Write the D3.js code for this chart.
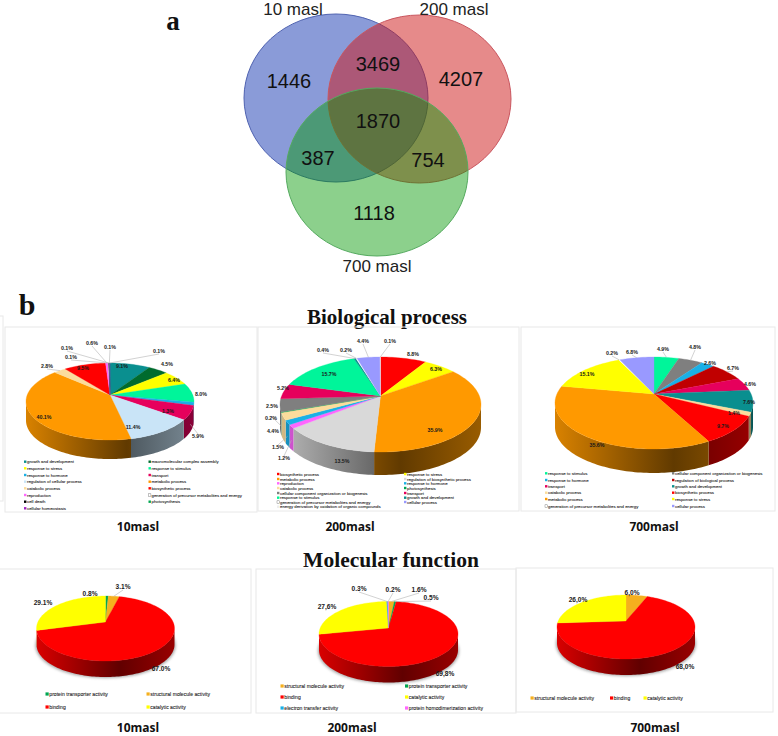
<!DOCTYPE html>
<html>
<head>
<meta charset="utf-8">
<script src="https://cdn.jsdelivr.net/npm/d3@7"></script>
<style>
body{margin:0;background:#fff;}
svg{display:block;}
</style>
</head>
<body>
<div id="chart"></div>
<script>
// venn
var vennSets=['10 masl','200 masl','700 masl'];
var vennCounts=[1446,3469,4207,1870,387,754,1118];

// biological process, slices clockwise from the top
var bio10Cats=['growth and development','macromolecular complex assembly','response to stress','response to stimulus','response to hormone','transport','regulation of cellular process','metabolic process','catabolic process','biosynthetic process','reproduction','generation of precursor metabolites and energy','cell death','photosynthesis','cellular homeostasis'];
var bio10Vals=[9.1,4.5,6.4,8.0,1.3,5.9,11.4,40.1,2.8,9.5,0.6,0.1,0.1,0.1,0.1];

var bio200Cats=['biosynthetic process','response to stress','metabolic process','regulation of biosynthetic process','reproduction','response to hormone','catabolic process','photosynthesis','cellular component organization or biogenesis','transport','response to stimulus','growth and development','generation of precursor metabolites and energy','cellular process','energy derivation by oxidation of organic compounds'];
var bio200Vals=[8.8,6.3,35.9,13.5,1.2,1.5,2.5,0.2,4.4,5.2,15.7,0.4,0.2,4.4,0.1];

var bio700Cats=['response to stimulus','cellular component organization or biogenesis','response to hormone','regulation of biological process','transport','growth and development','catabolic process','biosynthetic process','metabolic process','response to stress','generation of precursor metabolites and energy','cellular process'];
var bio700Vals=[4.9,4.8,2.6,6.7,4.6,7.6,1.4,9.7,35.6,15.1,0.2,6.8];

// molecular function
var mol10Cats=['protein  transporter activity','structural molecule activity','binding','catalytic activity'];
var mol10Vals=[0.8,3.1,67.0,29.1];
var mol200Cats=['structural molecule activity','protein transporter activity','binding','catalytic activity','electron transfer activity','protein homodimerization activity'];
var mol200Vals=[1.6,0.5,69.8,27.6,0.3,0.2];
var mol200Text=['1.6%','0.5%','69,8%','27,6%','0.3%','0.2%'];
var mol700Cats=['structural molecule activity','binding','catalytic activity'];
var mol700Vals=[6.0,68.0,26.0];
var mol700Text=['6,0%','68,0%','26,0%'];

var catColors={
	'growth and development':'#0a8f8f',
	'macromolecular complex assembly':'#006b2e',
	'response to stress':'#ffff00',
	'response to stimulus':'#00f59a',
	'response to hormone':'#1ab0e6',
	'transport':'#e6005c',
	'regulation of cellular process':'#c9e4f7',
	'metabolic process':'#ff9900',
	'catabolic process':'#fbdc9c',
	'biosynthetic process':'#ff0000',
	'reproduction':'#ff66ff',
	'generation of precursor metabolites and energy':'#ffffff',
	'cell death':'#000000',
	'photosynthesis':'#00a651',
	'cellular homeostasis':'#a020c0',
	'regulation of biosynthetic process':'#d9d9d9',
	'cellular component organization or biogenesis':'#7f7f7f',
	'cellular process':'#9999ff',
	'energy derivation by oxidation of organic compounds':'#eeeeee',
	'regulation of biological process':'#c00000',
	'protein  transporter activity':'#00a651',
	'protein transporter activity':'#00a651',
	'structural molecule activity':'#f5b01e',
	'binding':'#ff0000',
	'catalytic activity':'#ffff00',
	'electron transfer activity':'#1ab0e6',
	'protein homodimerization activity':'#ff66ff'
};

// layout only from here on
var width=778,height=736;
var svg=d3.select('#chart').append('svg').attr('width',width).attr('height',height);
var defs=svg.append('defs');
defs.append('filter').attr('id','pieShadow').append('feGaussianBlur').attr('stdDeviation',1.6);

var vennCircles=[
	{cx:336,cy:98,rx:92,ry:84,fill:'rgb(42,73,184)',op:0.55,stroke:'#4f62b0'},
	{cx:419.5,cy:99,rx:91.5,ry:84,fill:'rgb(205,21,21)',op:0.5,stroke:'#c9565f'},
	{cx:377,cy:172,rx:91,ry:84,fill:'rgb(0,150,0)',op:0.45,stroke:'#55aa5f'}
];
var vennCountPos=[[289,81],[378,64],[461,79],[378,121],[318,158],[428,160],[374,213]];
var vennSetPos=[[293,9],[454,9],[377,266]];

var venn=svg.append('g');
venn.selectAll('ellipse').data(vennCircles).enter().append('ellipse')
	.attr('cx',function(d){return d.cx;})
	.attr('cy',function(d){return d.cy;})
	.attr('rx',function(d){return d.rx;})
	.attr('ry',function(d){return d.ry;})
	.attr('fill',function(d){return d.fill;})
	.attr('fill-opacity',function(d){return d.op;})
	.attr('stroke',function(d){return d.stroke;})
	.attr('stroke-width',1);
venn.selectAll('text.count').data(vennCounts).enter().append('text')
	.attr('class','count')
	.attr('x',function(d,i){return vennCountPos[i][0];})
	.attr('y',function(d,i){return vennCountPos[i][1];})
	.attr('dy','.36em')
	.attr('text-anchor','middle')
	.attr('font-family','Liberation Sans')
	.attr('font-size',20)
	.attr('fill','#111')
	.text(function(d){return d;});
venn.selectAll('text.set').data(vennSets).enter().append('text')
	.attr('class','set')
	.attr('x',function(d,i){return vennSetPos[i][0];})
	.attr('y',function(d,i){return vennSetPos[i][1];})
	.attr('dy','.36em')
	.attr('text-anchor','middle')
	.attr('font-family','Liberation Sans')
	.attr('font-size',17)
	.attr('fill','#222')
	.text(function(d){return d;});

function addText(t,x,y,size,family,weight,anchor){
	return svg.append('text')
		.attr('x',x).attr('y',y)
		.attr('font-size',size)
		.attr('font-family',family)
		.attr('font-weight',weight)
		.attr('text-anchor',anchor||'middle')
		.attr('fill','#111')
		.text(t);
}
addText('a',173,30,27,'Liberation Serif','bold');
addText('b',27,315,30,'Liberation Serif','bold');
addText('Biological process',387,324,21,'Liberation Serif','bold');
addText('Molecular function',391,567,21.5,'Liberation Serif','bold');

// panel frames
var frames=[[-4,316,7,185],[5,327,252,185],[258,327,261,184],[521,327,254,184],[-2,569,253,144],[256,569,260,144],[516,568,257,144]];
svg.selectAll('rect.frame').data(frames).enter().append('rect')
	.attr('class','frame')
	.attr('x',function(d){return d[0];})
	.attr('y',function(d){return d[1];})
	.attr('width',function(d){return d[2];})
	.attr('height',function(d){return d[3];})
	.attr('fill','none')
	.attr('stroke','#e8e8e8')
	.attr('stroke-width',1);

var pie=d3.pie().sort(null).value(function(d){return d;});
var TAU=Math.PI*2;

function drawPie(p){
	var slices=pie(p.vals);
	var g=svg.append('g');
	// perspective: the pie centre sits above the middle of the ellipse, so
	// true angles get pushed along the rim (same map as excel's tilted pie)
	var e=(p.cy-p.apexY)/p.ry;
	var w=e/(1+Math.sqrt(1-e*e));
	function warp(a){
		if(a<=0)return 0;
		if(a>=TAU-1e-9)return TAU;
		var x=Math.sin(a),y=Math.cos(a);
		var nx=x,ny=y+w;
		var dx=1+w*y,dy=-w*x;
		var qx=nx*dx+ny*dy,qy=ny*dx-nx*dy;
		var t=Math.atan2(qx,qy);
		return t<0?t+TAU:t;
	}
	function rimX(a){return p.cx+p.rx*Math.sin(a);}
	function rimY(a){return p.cy-p.ry*Math.cos(a);}
	function rimAngles(a0,a1){
		var n=Math.max(2,Math.ceil((a1-a0)/0.03));
		var sc=d3.scaleLinear().domain([0,n]).range([a0,a1]);
		return d3.range(n+1).map(sc);
	}
	var line=d3.line();

	if(p.shadow){
		g.append('ellipse')
			.attr('cx',p.cx).attr('cy',p.cy+p.depth+1)
			.attr('rx',p.rx+1).attr('ry',p.ry)
			.attr('fill','#555')
			.attr('opacity',0.55)
			.attr('filter','url(#pieShadow)');
	}

	// side wall, only the front half of the rim shows
	var lo=Math.PI/2,hi=Math.PI*3/2;
	slices.forEach(function(s,i){
		var a0=Math.max(warp(s.startAngle),lo),a1=Math.min(warp(s.endAngle),hi);
		if(a1<=a0)return;
		var c=d3.rgb(catColors[p.cats[i]]);
		var id='side'+p.id+'_'+i;
		var grad=defs.append('linearGradient').attr('id',id)
			.attr('gradientUnits','userSpaceOnUse')
			.attr('x1',p.cx-p.rx).attr('x2',p.cx+p.rx).attr('y1',0).attr('y2',0);
		[[0,0.85],[0.6,0.38],[1,0.6]].forEach(function(st){
			grad.append('stop').attr('offset',st[0])
				.attr('stop-color',d3.rgb(c.r*st[1],c.g*st[1],c.b*st[1]).formatRgb());
		});
		var angs=rimAngles(a0,a1);
		var pts=angs.map(function(a){return [rimX(a),rimY(a)];})
			.concat(angs.slice().reverse().map(function(a){return [rimX(a),rimY(a)+p.depth];}));
		g.append('path').attr('d',line(pts)+'Z').attr('fill','url(#'+id+')');
	});

	// top face
	g.selectAll('path.top').data(slices).enter().append('path')
		.attr('class','top')
		.attr('d',function(s){
			var pts=rimAngles(warp(s.startAngle),warp(s.endAngle)).map(function(a){return [rimX(a),rimY(a)];});
			pts.unshift([p.cx,p.apexY]);
			return line(pts)+'Z';
		})
		.attr('fill',function(s,i){return catColors[p.cats[i]];})
		.attr('stroke',function(s,i){return catColors[p.cats[i]];})
		.attr('stroke-width',0.3);

	// leaders then labels
	p.leaders.forEach(function(i){
		var a=warp((slices[i].startAngle+slices[i].endAngle)/2);
		var front=Math.cos(a)<0;
		var lx=p.labelPos[i][0],ly=p.labelPos[i][1];
		g.append('line')
			.attr('x1',rimX(a)).attr('y1',rimY(a)+(front?p.depth*0.6:0))
			.attr('x2',lx).attr('y2',ly+(front?-2:3))
			.attr('stroke','#b4b4b4').attr('stroke-width',0.6);
	});
	g.selectAll('text.pct').data(p.vals).enter().append('text')
		.attr('class','pct')
		.attr('x',function(d,i){return p.labelPos[i][0];})
		.attr('y',function(d,i){return p.labelPos[i][1];})
		.attr('dy','.36em')
		.attr('text-anchor','middle')
		.attr('font-family','Liberation Sans')
		.attr('font-weight','bold')
		.attr('font-size',p.labelSize)
		.attr('fill','#1a1a1a')
		.text(function(d,i){return p.text?p.text[i]:d3.format('.1f')(d)+'%';});

	// legend
	var items=g.selectAll('g.leg').data(p.legend).enter().append('g').attr('class','leg')
		.attr('transform',function(d){return 'translate('+d[1]+','+d[2]+')';});
	items.append('rect')
		.attr('x',0).attr('y',-p.swatch/2)
		.attr('width',p.swatch).attr('height',p.swatch)
		.attr('fill',function(d){return catColors[p.cats[d[0]]];})
		.attr('stroke',function(d){return catColors[p.cats[d[0]]]=='#ffffff'?'#666':'none';})
		.attr('stroke-width',0.4);
	items.append('text')
		.attr('x',p.swatch+0.6)
		.attr('dy','.36em')
		.attr('font-family','Liberation Sans')
		.attr('font-size',p.legendSize)
		.attr('fill','#1a1a1a')
		.attr('stroke','#1a1a1a')
		.attr('stroke-width',0.08)
		.text(function(d){return p.cats[d[0]];});

	addText(p.caption,p.capX,p.capY,12,'Open Sans','bold');
}

// legend rows: [slice index, x, y]
function twoCols(order,x1,x2,rows){
	return order.map(function(idx,i){
		return [idx,i%2==0?x1:x2,rows[Math.floor(i/2)]];
	});
}

drawPie({id:'b10',cats:bio10Cats,vals:bio10Vals,cx:110,cy:401.5,rx:84,ry:38.5,apexY:395,depth:19,
	labelSize:5.3,swatch:2.4,legendSize:4.3,caption:'10masl',capX:138,capY:531,
	labelPos:[[122,366],[167,364],[174,380],[201,394],[168,411],[198,436],[133,427],[44,417],[47,366],[83,368],[92,343],[71,357],[67,348],[110,347],[159,351]],
	leaders:[5,8,10,11,12,13,14],
	legend:twoCols([0,1,2,3,4,5,6,7,8,9,10,11,12,13,14],24,148.5,[461.7,468.3,475,481.7,488.3,495,501.7,508.3])});

drawPie({id:'b200',cats:bio200Cats,vals:bio200Vals,cx:380.5,cy:404.5,rx:100.5,ry:47.5,apexY:396,depth:23,
	labelSize:5.3,swatch:2.4,legendSize:4.3,caption:'200masl',capX:350,capY:531,
	labelPos:[[413,354],[436,369],[435,430],[342,461],[284,458],[278,447],[272,406],[271,418],[273,431],[283,388],[329,374],[323,350],[346,350],[363,341],[390,341]],
	leaders:[4,5,7,11,12,13,14],
	legend:twoCols([0,1,2,3,4,5,6,7,8,9,10,11,12,13,14],277,404,[474,479,483.3,488,493,497.7,502,506.7])});

drawPie({id:'b700',cats:bio700Cats,vals:bio700Vals,cx:654,cy:403,rx:99,ry:46,apexY:394,depth:24,
	labelSize:5.3,swatch:2.4,legendSize:4.3,caption:'700masl',capX:654,capY:531,
	labelPos:[[663,349],[695,347],[710,363],[733,368],[750,384],[749,402],[734,413],[723,426],[597,445],[587,374],[612,353],[632,352]],
	leaders:[0,1,3,10,11],
	legend:twoCols([0,1,2,3,4,5,6,7,8,9,10,11],545,672,[473.3,480,486.3,492.7,499,506])});

drawPie({id:'m10',cats:mol10Cats,vals:mol10Vals,cx:105.5,cy:628.5,rx:69,ry:32.5,apexY:622,depth:16,shadow:true,
	labelSize:6.6,swatch:3.2,legendSize:5.1,caption:'10masl',capX:138,capY:732,
	labelPos:[[90,594],[123,587],[161,669],[43,603]],
	leaders:[1],
	legend:twoCols([0,1,2,3],45.5,146.5,[694,707])});

drawPie({id:'m200',cats:mol200Cats,vals:mol200Vals,text:mol200Text,cx:388.5,cy:634,rx:69.5,ry:32.5,apexY:628,depth:16,shadow:true,
	labelSize:6.6,swatch:3.2,legendSize:5.1,caption:'200masl',capX:352,capY:732,
	labelPos:[[419,590],[431,598],[445,674],[327,607],[359,589],[393,590]],
	leaders:[0,1,4,5],
	legend:twoCols([0,1,2,3,4,5],280.5,405,[686,697,708])});

drawPie({id:'m700',cats:mol700Cats,vals:mol700Vals,text:mol700Text,cx:626,cy:627,rx:69,ry:32,apexY:621,depth:16,shadow:true,
	labelSize:6.6,swatch:3.2,legendSize:5.1,caption:'700masl',capX:655,capY:732,
	labelPos:[[632,593],[685,667],[578,600]],
	leaders:[],
	legend:[[0,530.5,698],[1,610,698],[2,643.5,698]]});
</script>
</body>
</html>
